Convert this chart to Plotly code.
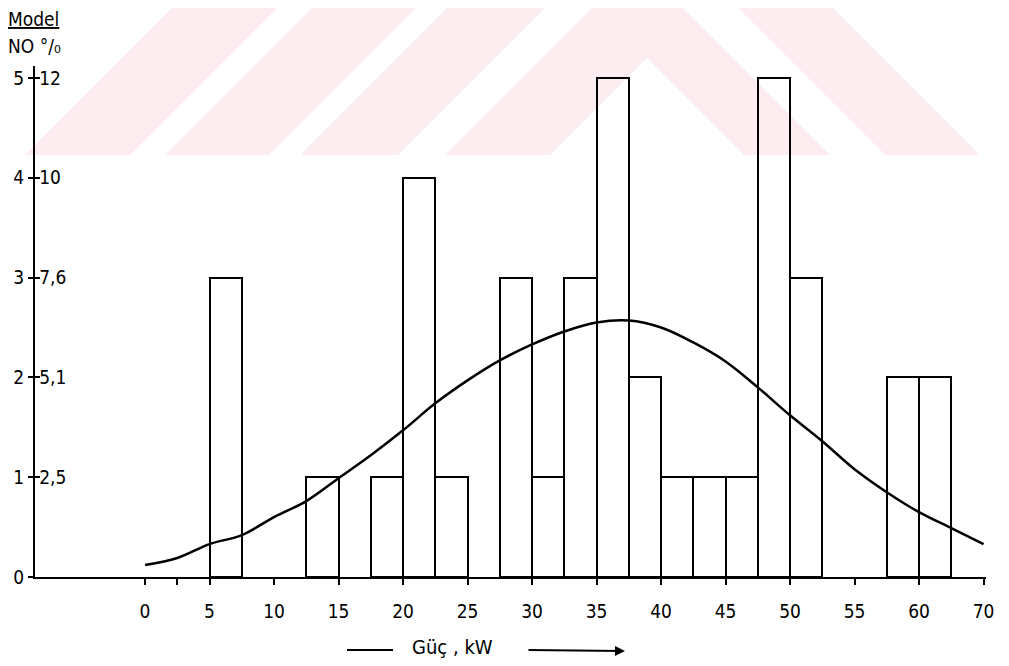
import plotly.graph_objects as go

# ---- data ----
bin_left = [5, 12.5, 17.5, 20, 22.5, 27.5, 30, 32.5, 35, 37.5, 40, 42.5, 45, 47.5, 50, 57.5, 60]
model_counts = [3, 1, 1, 4, 1, 3, 1, 3, 5, 2, 1, 1, 1, 5, 3, 2, 2]
bin_width = 2.5

curve_x = [0, 2.5, 5, 7.5, 10, 12.5, 15, 17.5, 20, 22.5, 25, 27.5, 30, 32.5, 35,
           37.5, 40, 42.5, 45, 47.5, 50, 52.5, 55, 57.5, 60, 62.5, 65]
curve_y = [0.12, 0.19, 0.33, 0.42, 0.60, 0.76, 0.99, 1.22, 1.47, 1.74, 1.97, 2.17, 2.33,
           2.46, 2.55, 2.57, 2.50, 2.35, 2.16, 1.90, 1.62, 1.36, 1.08, 0.85, 0.65, 0.49, 0.33]

x_tickvals = [0, 2.5, 5, 10, 15, 20, 25, 30, 35, 40, 45, 50, 55, 60, 65]
x_ticktext = ["0", "", "5", "10", "15", "20", "25", "30", "35", "40", "45", "50", "55", "60", "70"]

y_tickvals = [0, 1, 2, 3, 4, 5]
y_left_text = ["0", "1", "2", "3", "4", "5"]
y_right_text = ["0", "2,5", "5,1", "7,6", "10", "12"]

# ---- layout geometry (page body has an 8px margin) ----
OFF = 8
W, H = 1009 - OFF, 666 - OFF
ML, MT = 35 - OFF, 66 - OFF
MR = W - (986 - OFF)
MB = H - (577 - OFF)
PW, PH = W - ML - MR, H - MT - MB


def px(xp):
    return (xp - OFF - ML) / PW


def py(yp):
    return (H - MB - (yp - OFF)) / PH


FONT = "DejaVu Sans Condensed"
PINK = "#fdedf0"

fig = go.Figure()

bar_centers = [b + bin_width / 2 for b in bin_left]
fig.add_trace(go.Bar(
    x=bar_centers, y=model_counts, width=bin_width,
    marker=dict(color="rgba(0,0,0,0)", line=dict(color="black", width=2)),
    showlegend=False, hoverinfo="skip",
))
fig.add_trace(go.Scatter(
    x=curve_x, y=curve_y, mode="lines", yaxis="y2",
    line=dict(color="black", width=2.5, shape="spline", smoothing=1.0),
    showlegend=False, hoverinfo="skip",
))


# watermark (decorative pink stripes), in image pixel coordinates -> paper
def poly(points):
    d = "M " + " L ".join(f"{px(a):.5f},{py(b):.5f}" for a, b in points) + " Z"
    return dict(type="path", xref="paper", yref="paper", path=d,
                fillcolor=PINK, line=dict(width=0), layer="below")


YB = 155
YT = OFF
stripes = [
    [(180 - YB, YB), (180 - YT, YT), (285 - YT, YT), (285 - YB, YB)],
    [(320 - YB, YB), (320 - YT, YT), (424 - YT, YT), (424 - YB, YB)],
    [(455 - YB, YB), (455 - YT, YT), (553 - YT, YT), (553 - YB, YB)],
    [(600 - YB, YB), (600 - YT, YT), (675 + YT, YT), (675 + YB, YB), (589 + YB, YB),
     (647, 58), (705 - YB, YB)],
    [(730 + YT, YT), (825 + YT, YT), (825 + YB, YB), (730 + YB, YB)],
]
shapes = [poly(s) for s in stripes]

# axis title decoration: dash
shapes.append(dict(type="line", xref="paper", yref="paper",
                   x0=px(347), x1=px(393), y0=py(650), y1=py(650),
                   line=dict(color="black", width=2)))

annotations = [
    dict(text="<u>Model</u>", x=px(6), y=py(19), xref="paper", yref="paper",
         xanchor="left", yanchor="middle", showarrow=False,
         font=dict(family=FONT, size=19, color="black")),
    dict(text="NO °/₀", x=px(6), y=py(46), xref="paper", yref="paper",
         xanchor="left", yanchor="middle", showarrow=False,
         font=dict(family=FONT, size=19, color="black")),
    dict(text="Güç , kW", x=px(452), y=py(647), xref="paper", yref="paper",
         xanchor="center", yanchor="middle", showarrow=False,
         font=dict(family=FONT, size=20, color="black")),
    dict(text="", x=px(625), y=py(651), xref="paper", yref="paper",
         ax=-98, ay=-1, axref="pixel", ayref="pixel",
         showarrow=True, arrowhead=2, arrowsize=1, arrowwidth=2, arrowcolor="black"),
]

fig.update_layout(
    width=W, height=H, autosize=False,
    margin=dict(l=ML, r=MR, t=MT, b=MB, pad=0),
    paper_bgcolor="white", plot_bgcolor="rgba(0,0,0,0)",
    bargap=0,
    shapes=shapes, annotations=annotations,
    xaxis=dict(
        range=[-8.53, -8.53 + PW / 12.9], automargin=False,
        tickmode="array", tickvals=x_tickvals, ticktext=x_ticktext,
        ticks="outside", ticklen=6, tickwidth=1.5, tickcolor="black",
        showline=True, linecolor="black", linewidth=2,
        showgrid=False, zeroline=False,
        tickfont=dict(family=FONT, size=19, color="black"),
        ticklabelstandoff=10,
    ),
    yaxis=dict(
        range=[0, PH / 99.8], automargin=False,
        tickmode="array", tickvals=y_tickvals, ticktext=y_left_text,
        ticks="outside", ticklen=5, tickwidth=1.5, tickcolor="black",
        showline=True, linecolor="black", linewidth=2,
        showgrid=False, zeroline=False,
        tickfont=dict(family=FONT, size=19, color="black"),
        ticklabelstandoff=0,
    ),
    yaxis2=dict(
        range=[0, PH / 99.8], overlaying="y", side="left", anchor="x",
        automargin=False,
        tickmode="array", tickvals=y_tickvals, ticktext=y_right_text,
        ticks="inside", ticklen=5, tickwidth=1.5, tickcolor="black",
        ticklabelposition="inside",
        showline=False, showgrid=False, zeroline=False,
        tickfont=dict(family=FONT, size=19, color="black"),
    ),
)

fig.write_html("out.html")
